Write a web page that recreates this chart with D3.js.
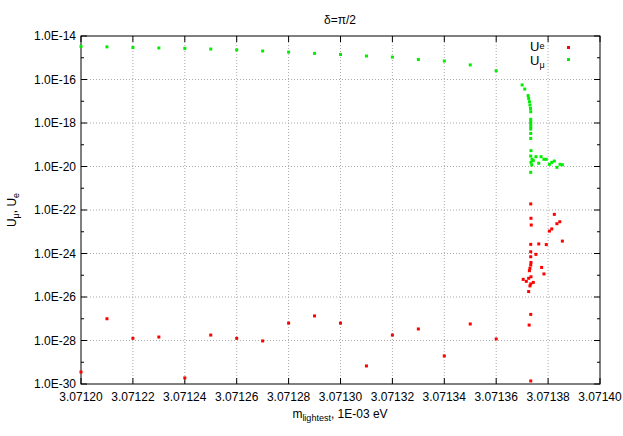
<!DOCTYPE html><html><head><meta charset="utf-8"><script src="https://cdn.jsdelivr.net/npm/d3@7"></script>
<style>body{margin:0;background:#fff}text{font-family:"Liberation Sans",Arial,sans-serif}</style></head><body><svg id="c" width="623" height="436"></svg>
<script>
const muX=[3.07120,3.07121,3.07122,3.07123,3.07124,3.07125,3.07126,3.07127,3.07128,3.07129,3.07130,3.07131,3.07132,3.07133,3.07134,3.07135,3.07136,
3.0713700,3.0713710,3.0713723,3.0713725,3.0713728,3.0713730,3.0713732,3.0713733,3.0713733,3.0713733,3.0713733,3.0713733,3.0713733,3.0713733,3.0713733,3.0713734,3.0713733,3.0713738,3.0713743,3.0713734,3.0713737,3.0713753,3.0713764,3.0713773,3.0713784,3.0713793,3.0713805,3.0713814,3.0713824,3.0713834,3.0713846,3.0713855,3.0713733];
const muLog=[-14.48,-14.5,-14.53,-14.55,-14.57,-14.6,-14.64,-14.69,-14.74,-14.8,-14.85,-14.92,-14.97,-15.08,-15.15,-15.33,-15.6,
-16.25,-16.44,-16.74,-16.87,-17.02,-17.17,-17.33,-17.48,-17.83,-17.94,-18.05,-18.17,-18.28,-18.48,-18.71,-19.27,-19.52,-19.67,-19.73,-19.81,-19.93,-19.55,-19.85,-19.55,-19.67,-19.67,-19.9,-19.81,-19.75,-20.04,-19.9,-19.92,-20.27];
const eX=[3.07120,3.07121,3.07122,3.07123,3.07124,3.07125,3.07126,3.07127,3.07128,3.07129,3.07130,3.07131,3.07132,3.07133,3.07134,3.07135,3.07136,
3.0713733,3.0713734,3.0713735,3.0713824,3.0713845,3.0713834,3.0713814,3.0713805,3.0713855,3.0713733,3.0713764,3.0713793,3.0713753,3.0713733,3.0713733,3.0713734,3.0713733,3.0713730,3.0713728,3.0713775,3.0713784,3.0713734,3.0713725,3.0713704,3.0713716,3.0713743,3.0713733,3.0713730,3.0713725,3.0713733,3.0713727,3.0713733];
const eLog=[-29.45,-27.0,-27.9,-27.84,-29.72,-27.75,-27.9,-28.02,-27.2,-26.87,-27.2,-29.17,-27.75,-27.47,-28.71,-27.24,-27.93,
-21.72,-22.38,-22.69,-22.2,-22.54,-22.63,-22.87,-22.97,-23.43,-23.58,-23.56,-23.59,-24.04,-23.92,-24.15,-24.41,-24.53,-24.68,-24.79,-24.64,-24.94,-25.07,-25.14,-25.19,-25.28,-25.33,-25.4,-25.49,-25.75,-26.8,-27.29,-29.86];
const xTicks=[3.07120,3.07122,3.07124,3.07126,3.07128,3.07130,3.07132,3.07134,3.07136,3.07138,3.07140];
const yTicks=[-14,-16,-18,-20,-22,-24,-26,-28,-30];
const yMinor=[-15,-17,-19,-21,-23,-25,-27,-29];
const svg=d3.select("#c");
const L=81,R=600,T=36,B=384;
const x=d3.scaleLinear().domain([3.0712,3.0714]).range([L,R]);
const y=d3.scaleLinear().domain([-30,-14]).range([B,T]);
const g=svg.append("g");
g.selectAll(".gx").data(xTicks.slice(1,-1)).join("line").attr("x1",d=>x(d)).attr("x2",d=>x(d)).attr("y1",T).attr("y2",B).attr("stroke","#aaa").attr("stroke-dasharray","1,2");
g.selectAll(".gy").data(yTicks.slice(1,-1)).join("line").attr("y1",d=>y(d)).attr("y2",d=>y(d)).attr("x1",L).attr("x2",R).attr("stroke","#aaa").attr("stroke-dasharray","1,2");
xTicks.forEach(d=>{[[B,B-6],[T,T+6]].forEach(([a,b])=>g.append("line").attr("x1",x(d)).attr("x2",x(d)).attr("y1",a).attr("y2",b).attr("stroke","#000"));
 g.append("text").attr("x",x(d)).attr("y",B+17).attr("text-anchor","middle").attr("font-size",12).text(d.toFixed(5));});
yTicks.forEach(d=>{[[L,L+6],[R,R-6]].forEach(([a,b])=>g.append("line").attr("y1",y(d)).attr("y2",y(d)).attr("x1",a).attr("x2",b).attr("stroke","#000"));
 g.append("text").attr("x",L-5).attr("y",y(d)+4).attr("text-anchor","end").attr("font-size",12).text("1.0E"+d);});
yMinor.forEach(d=>{[[L,L+3],[R,R-3]].forEach(([a,b])=>g.append("line").attr("y1",y(d)).attr("y2",y(d)).attr("x1",a).attr("x2",b).attr("stroke","#000"));});
g.append("rect").attr("x",L).attr("y",T).attr("width",R-L).attr("height",B-T).attr("fill","none").attr("stroke","#000");
function pts(X,Y,c){g.selectAll(null).data(X).join("rect").attr("x",(d,i)=>x(d)-1.5).attr("y",(d,i)=>y(Y[i])-1.5).attr("width",3).attr("height",3).attr("fill",c);}
pts(muX,muLog,"#00ee00");pts(eX,eLog,"#ff0000");
const lg=svg.append("g").attr("font-size",13);
lg.append("text").attr("x",530).attr("y",51).html('U<tspan font-size="9" dy="-2">e</tspan>');
lg.append("text").attr("x",530).attr("y",65).html('U<tspan font-size="9" dy="3">μ</tspan>');
lg.append("rect").attr("x",567).attr("y",46).attr("width",3).attr("height",3).attr("fill","#ff0000");
lg.append("rect").attr("x",567).attr("y",58).attr("width",3).attr("height",3).attr("fill","#00ee00");
svg.append("text").attr("x",340).attr("y",24).attr("text-anchor","middle").attr("font-size",12).text("δ=π/2");
svg.append("text").attr("x",340).attr("y",418).attr("text-anchor","middle").attr("font-size",12).html('m<tspan font-size="9" dy="3">lightest</tspan><tspan dy="-3">, 1E-03 eV</tspan>');
svg.append("text").attr("transform","translate(16,210) rotate(-90)").attr("text-anchor","middle").attr("font-size",12).html('U<tspan font-size="9" dy="3">μ</tspan><tspan dy="-3">, U</tspan><tspan font-size="9" dy="3">e</tspan>');
</script></body></html>
